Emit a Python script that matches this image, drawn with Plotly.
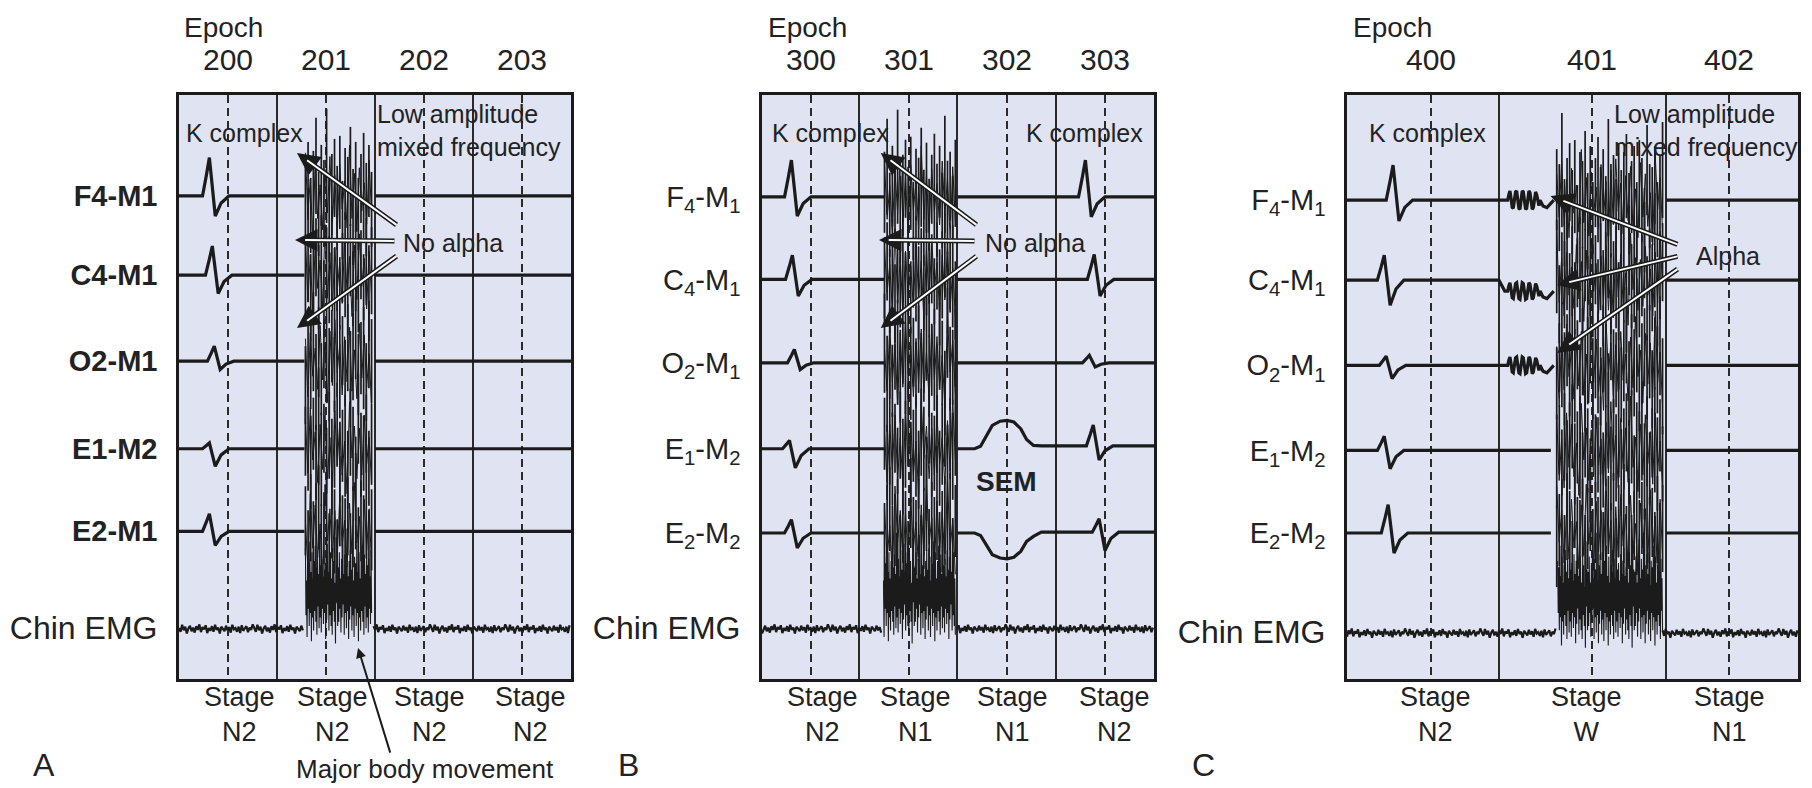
import numpy as np
import plotly.graph_objects as go

# ---------------- data ----------------
EPOCHS_A = ["200", "201", "202", "203"]
EPOCHS_B = ["300", "301", "302", "303"]
EPOCHS_C = ["400", "401", "402"]
STAGES_A = ["N2", "N2", "N2", "N2"]
STAGES_B = ["N2", "N1", "N1", "N2"]
STAGES_C = ["N2", "W", "N1"]
EMG_LABEL = "<span style='font-size:32px'>Chin EMG</span>"
CHANNELS_A = ["<b>F4-M1</b>", "<b>C4-M1</b>", "<b>O2-M1</b>", "<b>E1-M2</b>", "<b>E2-M1</b>", EMG_LABEL]
CHANNELS_BC = ["F<sub>4</sub>-M<sub>1</sub>", "C<sub>4</sub>-M<sub>1</sub>", "O<sub>2</sub>-M<sub>1</sub>",
               "E<sub>1</sub>-M<sub>2</sub>", "E<sub>2</sub>-M<sub>2</sub>", EMG_LABEL]

# K-complex onset (epoch units) and amplitudes (up / down) for F4, C4, O2, E1, E2
KC_A_ON = [0.24, 0.27, 0.29, 0.24, 0.24]
KC_A_UP = [0.46, 0.35, 0.18, 0.07, 0.21]
KC_A_DN = [0.24, 0.22, 0.10, 0.21, 0.17]
KC_B1_ON = [0.23, 0.24, 0.26, 0.21, 0.23]
KC_B1_UP = [0.44, 0.29, 0.16, 0.10, 0.16]
KC_B1_DN = [0.23, 0.20, 0.08, 0.23, 0.18]
KC_B2_ON = [3.23, 3.32, 3.27, 3.31, 3.37]
KC_B2_UP = [0.44, 0.30, 0.09, 0.25, 0.16]
KC_B2_DN = [0.24, 0.20, 0.05, 0.17, 0.22]
KC_C_ON = [0.40, 0.31, 0.33, 0.31, 0.35]
KC_C_UP = [0.42, 0.30, 0.11, 0.17, 0.34]
KC_C_DN = [0.25, 0.30, 0.16, 0.22, 0.24]

K_SHAPE_T = [0.0, 0.04, 0.07, 0.13, 0.19, 0.27]
K_SHAPE_Y = [0.0, 0.55, 1.0, -1.0, -0.35, 0.0]

# slow eye movement (epoch 302)
SEM_ON = 2.17
SEM_T = [0.0, 0.06, 0.12, 0.18, 0.26, 0.33, 0.40, 0.47, 0.53, 0.60, 0.68]
SEM_Y_E1 = [0.0, 0.03, 0.15, 0.28, 0.33, 0.34, 0.32, 0.24, 0.11, 0.04, 0.035]
SEM_Y_E2 = [0.0, -0.03, -0.14, -0.26, -0.30, -0.31, -0.29, -0.22, -0.10, -0.04, 0.01]

# alpha bursts (panel C)
ALPHA_ON = 1.64
ALPHA_LEN = 0.33
ALPHA_WAVE = [0, 0.6, 1.0, 0.2, -0.8, -0.9, 0.1, 0.9, 1.0, 0.0, -0.9, -1.0, 0.1, 1.0, 0.9,
              -0.1, -1.0, -0.9, 0.2, 1.0, 0.8, -0.2, -1.0, -0.8, 0.2, 0.9, 0.6, -0.3, -0.6, 0]
ALPHA_AMP = [0.11, 0.10, 0.10]
ALPHA_DROP = [0.0, -0.13, 0.0]
ALPHA_TAIL_T = [0.03, 0.07, 0.11, 0.14]
ALPHA_TAIL_Y = [-0.07, -0.09, -0.03, 0.0]

# movement artifact stroke heights
ART_UP = [0.55, 0.9, 0.3, 0.75, 1.3, 0.4, 0.85, 0.6, 1.45, 0.35, 0.7, 0.95, 0.5, 1.0, 0.25, 0.8,
          0.65, 1.15, 0.45, 0.9, 0.3, 0.7, 1.05, 0.55, 0.85, 0.4, 1.35, 0.6, 0.75, 0.35, 0.95, 0.5,
          0.8, 1.1, 0.45, 0.65, 0.9, 0.3, 1.0, 0.7, 0.2, 1.25, 0.6]
ART_DN = [0.7, 0.4, 0.95, 0.6, 0.3, 1.0, 0.5, 0.85, 0.45, 1.1, 0.65, 0.35, 0.9, 0.55, 1.05, 0.4,
          0.8, 0.5, 1.15, 0.6, 0.9, 0.45, 0.7, 1.0, 0.35, 0.85, 0.6, 0.95, 0.4, 0.75, 0.5, 1.1,
          0.65, 0.3, 0.9, 0.55, 0.8, 1.0, 0.45, 0.7, 1.2, 0.25, 0.8]
# chin EMG baseline texture
EMG_NOISE = [0.2, -0.6, 0.9, -0.3, 0.5, -1.0, 0.1, 0.7, -0.5, 0.3, -0.8, 0.6, -0.2, 1.0, -0.7, 0.4,
             -0.1, 0.8, -0.9, 0.2, -0.4, 0.6, -0.6, 0.9, -0.2, 0.3, -1.0, 0.5, 0.0, -0.5, 0.7, -0.3,
             0.4, -0.8, 0.9, -0.1, 0.2, -0.6, 0.5, -0.9, 0.8, -0.4, 0.1, 0.6, -0.7, 0.3, -0.2, 1.0]

# ---------------- layout constants ----------------
W, H = 1812, 788
BOX_TOP, BOX_BOT = 87, 671
PX_PER_UNIT = 98.0
YMAX = 7.0
BG = "#dfe3f2"
LINE = "#1b1b1b"
GRID = "#2a2a2a"
TXT = "#222222"
FONT = "Liberation Sans, Arial, Helvetica, sans-serif"

PANELS = [
    dict(letter="A", left=171, right=563, epochs=EPOCHS_A, stages=STAGES_A, channels=CHANNELS_A,
         dashed=[0.5, 1.5, 2.5, 3.5], solid=[1.0, 2.0, 3.0],
         stage_x=[0.617, 1.566, 2.551, 3.582],
         base=[5.79, 4.84, 3.81, 2.76, 1.77, 0.60],
         line_end=1.28, burst=(1.29, 1.965), resume=2.0, emg_end=1.28, emg_resume=1.985,
         letter_x=23, epoch_x=174),
    dict(letter="B", left=754, right=1146, epochs=EPOCHS_B, stages=STAGES_B, channels=CHANNELS_BC,
         dashed=[0.5, 1.5, 2.5, 3.5], solid=[0.99, 1.99, 3.0],
         stage_x=[0.622, 1.571, 2.561, 3.592],
         base=[5.78, 4.79, 3.79, 2.76, 1.75, 0.60],
         line_end=1.25, burst=(1.25, 1.973), resume=1.993, emg_end=1.23, emg_resume=1.99,
         letter_x=620, epoch_x=758),
    dict(letter="C", left=1339, right=1790, epochs=EPOCHS_C, stages=STAGES_C, channels=CHANNELS_BC,
         dashed=[0.857, 2.50, 3.898], solid=[1.551, 3.255],
         stage_x=[0.908, 2.439, 3.898],
         base=[5.74, 4.78, 3.76, 2.74, 1.75, 0.55],
         line_end=2.08, burst=(2.14, 3.22), resume=3.255, emg_end=2.14, emg_resume=3.22,
         letter_x=1195, epoch_x=1343),
]


def kc_event(t0, up, dn):
    yy = [v * (up if v > 0 else dn) for v in K_SHAPE_Y]
    return (t0, list(K_SHAPE_T), yy)


def build_segment(x0, x1, base, events):
    xs, ys = [x0], [base]
    level = base
    for t0, tt, yy in sorted(events, key=lambda e: e[0]):
        xs += [t0 + t for t in tt]
        ys += [level + y for y in yy]
        level = level + yy[-1]
    xs.append(x1)
    ys.append(level)
    return xs, ys


def strokes(bs, be, base, amp, off, spacing):
    """vertical pen strokes of the movement artifact"""
    n = max(2, int(round((be - bs) / spacing)))
    up = np.resize(np.roll(ART_UP, -off), n)
    dn = np.resize(np.roll(ART_DN, -off), n)
    xc = np.linspace(bs, be, n)
    xs, ys = [], []
    for k in range(n):
        xs += [xc[k], xc[k], None]
        ys += [base + amp * up[k], base - amp * dn[k], None]
    return xs, ys


def zigzag(bs, be, base, amp, off, spacing, shift=0.0):
    n = max(2, int(round((be - bs) / spacing)))
    up = np.resize(np.roll(ART_UP, -off), n)
    dn = np.resize(np.roll(ART_DN, -off), n)
    xs = np.linspace(bs, be, 2 * n)
    ys = np.empty(2 * n)
    ys[0::2] = base + shift + amp * up
    ys[1::2] = base + shift - amp * dn
    return list(xs), list(ys)


def emg_noise(x0, x1, base, off):
    xs = np.arange(x0, x1, 0.016)
    ys = base + 0.055 * np.resize(np.roll(EMG_NOISE, -off), len(xs))
    return list(xs), list(ys)


def add(fig, xs, ys, xr, yr, width):
    fig.add_trace(go.Scatter(x=xs, y=ys, mode="lines", line=dict(color=LINE, width=width),
                             xaxis=xr, yaxis=yr, hoverinfo="skip", showlegend=False))


fig = go.Figure()
layout = dict(width=W, height=H, margin=dict(l=0, r=0, t=0, b=0), paper_bgcolor="white",
              plot_bgcolor=BG, showlegend=False, font=dict(family=FONT, color=TXT))
annotations = []

for i, P in enumerate(PANELS):
    sfx = "" if i == 0 else str(i + 1)
    xr, yr = "x" + sfx, "y" + sfx
    xmax = (P["right"] - P["left"]) / PX_PER_UNIT
    layout["xaxis" + sfx] = dict(
        domain=[P["left"] / W, P["right"] / W], range=[0, xmax], anchor=yr, side="top",
        tickmode="array", tickvals=P["dashed"], ticktext=P["epochs"],
        showgrid=True, gridcolor=GRID, gridwidth=1.6, griddash="8px,5px",
        minor=dict(tickmode="array", tickvals=P["solid"], showgrid=True, gridcolor=GRID,
                   gridwidth=1.6, griddash="solid", ticks=""),
        showline=True, mirror=True, linecolor=LINE, linewidth=2.5, ticks="",
        ticklabelstandoff=10, tickfont=dict(size=30, color=TXT), zeroline=False, fixedrange=True)
    layout["yaxis" + sfx] = dict(
        domain=[1 - BOX_BOT / H, 1 - BOX_TOP / H], range=[0, YMAX], anchor=xr,
        tickmode="array", tickvals=P["base"], ticktext=P["channels"], showgrid=False,
        showline=True, mirror=True, linecolor=LINE, linewidth=2.5, ticks="",
        ticklabelstandoff=13, tickfont=dict(size=29, color=TXT), zeroline=False, fixedrange=True)

    bs, be = P["burst"]
    L = P["letter"]
    # ---- EEG / EOG channels ----
    for c in range(5):
        base = P["base"][c]
        pre, post = [], []
        if L == "A":
            pre.append(kc_event(KC_A_ON[c], KC_A_UP[c], KC_A_DN[c]))
        elif L == "B":
            pre.append(kc_event(KC_B1_ON[c], KC_B1_UP[c], KC_B1_DN[c]))
            if c == 3:
                post.append((SEM_ON, SEM_T, SEM_Y_E1))
            if c == 4:
                post.append((SEM_ON, SEM_T, SEM_Y_E2))
            post.append(kc_event(KC_B2_ON[c], KC_B2_UP[c], KC_B2_DN[c]))
        else:
            pre.append(kc_event(KC_C_ON[c], KC_C_UP[c], KC_C_DN[c]))
        if L == "C" and c < 3:
            n = len(ALPHA_WAVE)
            drop = ALPHA_DROP[c]
            tt = [-0.09, -0.03] + [k * ALPHA_LEN / (n - 1) for k in range(n)] + \
                 [ALPHA_LEN + t for t in ALPHA_TAIL_T]
            yy = [0.0, drop] + [drop + ALPHA_AMP[c] * v for v in ALPHA_WAVE] + \
                 [drop + v for v in ALPHA_TAIL_Y]
            pre.append((ALPHA_ON, tt, yy))
            xs, ys = build_segment(0, ALPHA_ON + tt[-1], base, pre)
        else:
            xs, ys = build_segment(0, P["line_end"], base, pre)
        xs2, ys2 = build_segment(P["resume"], xmax, base, post)
        add(fig, xs + [None] + xs2, ys + [None] + ys2, xr, yr, 3.2)
        sx, sy = strokes(bs, be, base, 0.72, 7 * c + 3 * i, 0.026)
        add(fig, sx, sy, xr, yr, 1.7)
        zx, zy = zigzag(bs, be, base, 0.45, 5 * c + 2 * i + 17, 0.05)
        add(fig, zx, zy, xr, yr, 1.0)
    # ---- chin EMG ----
    base = P["base"][5]
    x1s, y1s = emg_noise(0, P["emg_end"], base, 5 * i)
    x2s, y2s = emg_noise(P["emg_resume"], xmax, base, 5 * i + 11)
    add(fig, x1s + [None] + x2s, y1s + [None] + y2s, xr, yr, 2.2)
    ax_, ay_ = zigzag(P["emg_end"] + 0.01, be, base, 0.52, 13 + i, 0.011, shift=0.45)
    add(fig, ax_, ay_, xr, yr, 1.1)

    # ---- stage labels ----
    for sx_, st in zip(P["stage_x"], P["stages"]):
        annotations.append(dict(x=sx_, y=1 - 706 / H, xref=xr, yref="paper", yanchor="middle",
                                text="Stage<br>" + st, showarrow=False,
                                font=dict(size=27, color=TXT), align="center"))
    # ---- panel letter & Epoch title ----
    annotations.append(dict(x=P["letter_x"] / W, y=1 - 757 / H, xref="paper", yref="paper",
                            yanchor="middle", text=L, showarrow=False,
                            font=dict(size=32, color=TXT)))
    annotations.append(dict(x=P["epoch_x"] / W, y=1 - 19 / H, xref="paper", yref="paper",
                            yanchor="middle", text="Epoch", showarrow=False, xanchor="left",
                            font=dict(size=28, color=TXT)))


def txt(x, y, text, ax="x", ay="y", size=25, xanchor="left", bold=False):
    annotations.append(dict(x=x, y=y, xref=ax, yref=ay, yanchor="middle",
                            text=("<b>%s</b>" % text) if bold else text,
                            showarrow=False, xanchor=xanchor, align="left",
                            font=dict(size=size, color=TXT)))


def arrow(tail, head, ax="x", ay="y", white=True):
    if white:
        annotations.append(dict(x=head[0], y=head[1], ax=tail[0], ay=tail[1], xref=ax, yref=ay,
                                axref=ax, ayref=ay, text="", showarrow=True, arrowhead=2,
                                arrowsize=0.9, arrowwidth=5, arrowcolor=LINE))
        hx = head[0] + (tail[0] - head[0]) * 0.1
        hy = head[1] + (tail[1] - head[1]) * 0.1
        annotations.append(dict(x=hx, y=hy, ax=tail[0], ay=tail[1], xref=ax, yref=ay,
                                axref=ax, ayref=ay, text="", showarrow=True, arrowhead=0,
                                arrowwidth=2, arrowcolor="white"))
    else:
        annotations.append(dict(x=head[0], y=head[1], ax=tail[0], ay=tail[1], xref=ax, yref=ay,
                                axref=ax, ayref=ay, text="", showarrow=True, arrowhead=2,
                                arrowsize=1.0, arrowwidth=2, arrowcolor=LINE))


# Panel A texts
txt(0.05, 6.545, "K complex")
txt(2.0, 6.58, "Low amplitude<br>mixed frequency")
txt(2.265, 5.226, "No alpha")
arrow((2.235, 5.43), (1.204, 6.305))
arrow((2.214, 5.25), (1.184, 5.262))
arrow((2.235, 5.082), (1.204, 4.207))
arrow((2.16, -0.9), (1.827, 0.372), white=False)
annotations.append(dict(x=2.51, y=1 - 761 / H, xref="x", yref="paper", yanchor="middle",
                        text="Major body movement", showarrow=False, xanchor="center",
                        font=dict(size=26, color=TXT)))

# Panel B texts
txt(0.082, 6.545, "K complex", "x2", "y2")
txt(2.673, 6.545, "K complex", "x2", "y2")
txt(2.255, 5.226, "No alpha", "x2", "y2")
txt(2.49, 2.373, "SEM", "x2", "y2", size=28, xanchor="center", bold=True)
arrow((2.204, 5.43), (1.212, 6.305), "x2", "y2")
arrow((2.184, 5.25), (1.194, 5.262), "x2", "y2")
arrow((2.204, 5.082), (1.212, 4.207), "x2", "y2")

# Panel C texts
txt(0.204, 6.545, "K complex", "x3", "y3")
txt(2.70, 6.58, "Low amplitude<br>mixed frequency", "x3", "y3")
txt(3.54, 5.07, "Alpha", "x3", "y3")
arrow((3.388, 5.202), (2.077, 5.789), "x3", "y3")
arrow((3.388, 5.07), (2.143, 4.722), "x3", "y3")
arrow((3.388, 4.926), (2.143, 3.907), "x3", "y3")

layout["annotations"] = annotations
fig.update_layout(**layout)
fig.write_html("out.html")
